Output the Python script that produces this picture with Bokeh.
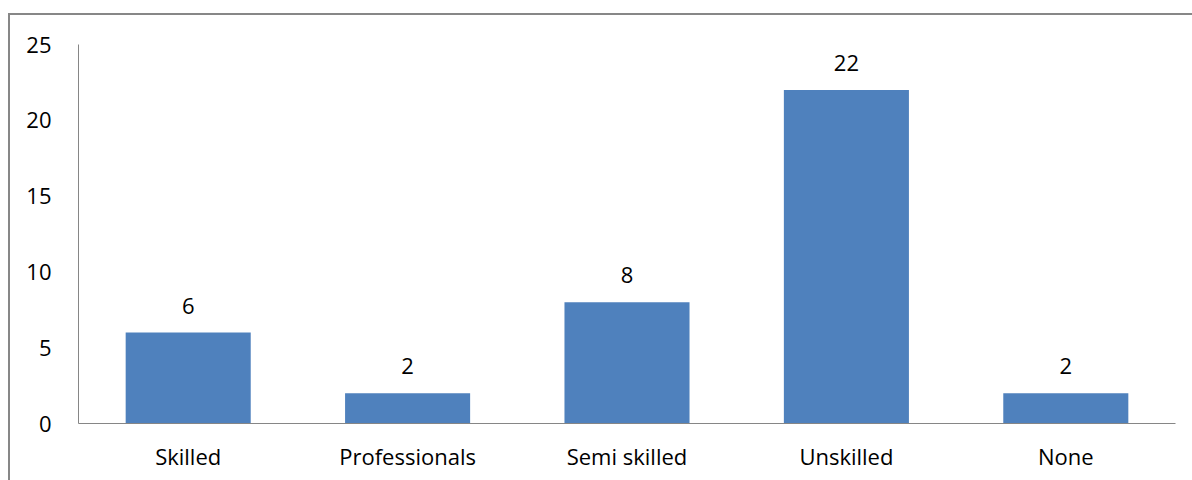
from bokeh.plotting import figure
from bokeh.models import ColumnDataSource, SingleIntervalTicker, Range1d, LabelSet
from bokeh.core.properties import value
from bokeh.embed import file_html
from bokeh.resources import INLINE

categories = ["Skilled", "Professionals", "Semi skilled", "Unskilled", "None"]
counts = [6, 2, 8, 22, 2]

FONT = "Open Sans"
FS = "22px"
src = ColumnDataSource(dict(cat=categories, val=counts, lab=[str(v) for v in counts]))

p = figure(x_range=categories, y_range=Range1d(0, 25), width=1182, height=465,
           output_backend="svg", toolbar_location=None,
           min_border_left=68, min_border_right=17, min_border_top=29, min_border_bottom=57)
p.frame_width = 1097
p.frame_height = 379
p.margin = (13, 0, 0, 8)
p.styles = {"border-left": "2px solid #878787", "border-top": "2px solid #878787"}

p.vbar(x="cat", top="val", width=0.57, source=src, color="#4F81BD", line_color=None)

labels = LabelSet(x="cat", y="val", text="lab", source=src, text_align="center",
                  text_baseline="bottom", y_offset=19, text_font=value(FONT),
                  text_font_size=value(FS), text_color="#000000")
p.add_layout(labels)

p.outline_line_color = None
p.grid.grid_line_color = None
p.background_fill_color = "white"
p.border_fill_color = "white"

p.yaxis.ticker = SingleIntervalTicker(interval=5)
p.yaxis.axis_line_color = "#868686"
p.yaxis.major_tick_line_color = None
p.yaxis.minor_tick_line_color = None
p.yaxis.major_label_standoff = 21
p.yaxis.major_label_text_font = FONT
p.yaxis.major_label_text_font_size = FS
p.yaxis.major_label_text_color = "#000000"

p.xaxis.axis_line_color = "#868686"
p.xaxis.major_tick_line_color = None
p.xaxis.minor_tick_line_color = None
p.xaxis.major_label_standoff = 11
p.xaxis.major_label_text_font = FONT
p.xaxis.major_label_text_font_size = FS
p.xaxis.major_label_text_color = "#000000"

p.x_range.range_padding = 0

open("out.html", "w").write(file_html(p, INLINE))
